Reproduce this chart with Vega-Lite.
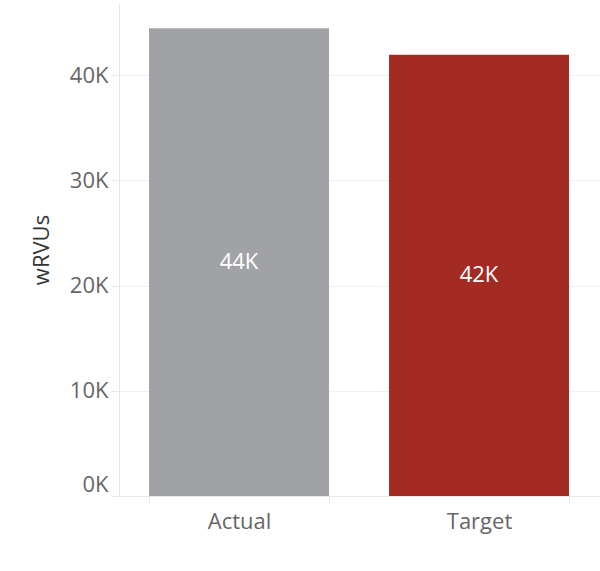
{
  "$schema": "https://vega.github.io/schema/vega-lite/v6.json",
  "autosize": "none",
  "width": 480,
  "height": 493,
  "padding": {"left": 119, "top": 3, "right": 1, "bottom": 75},
  "background": "white",
  "data": {
    "values": [
      {"category": "Actual", "value": 44450},
      {"category": "Target", "value": 41950}
    ]
  },
  "transform": [
    {"calculate": "format(datum.value / 1000, '.0f') + 'K'", "as": "label"},
    {"calculate": "datum.value / 2", "as": "mid"}
  ],
  "encoding": {
    "x": {
      "field": "category",
      "type": "nominal",
      "sort": null,
      "scale": {"paddingInner": 0.25, "paddingOuter": 0.125},
      "axis": {
        "title": null,
        "labelAngle": 0,
        "tickBand": "extent",
        "tickSize": 7,
        "labelPadding": 8,
        "labelFontSize": 22
      }
    }
  },
  "layer": [
    {
      "mark": {"type": "bar"},
      "encoding": {
        "y": {
          "field": "value",
          "type": "quantitative",
          "scale": {"domain": [0, 46860], "nice": false},
          "axis": {
            "title": "wRVUs",
            "values": [0, 10000, 20000, 30000, 40000],
            "labelExpr": "format(datum.value / 1000, '.0f') + 'K'",
            "labelBaseline": {"condition": {"test": "datum.value == 0", "value": "bottom"}, "value": "middle"},
            "tickSize": 8,
            "labelPadding": 3,
            "labelFontSize": 22,
            "titleFontSize": 22,
            "titlePadding": 16,
            "titleFontWeight": "normal",
            "titleColor": "#333333"
          }
        },
        "color": {
          "field": "category",
          "type": "nominal",
          "scale": {"domain": ["Actual", "Target"], "range": ["#A1A2A6", "#A42B24"]},
          "legend": null
        }
      }
    },
    {
      "mark": {"type": "text", "color": "white", "fontSize": 22, "baseline": "middle", "align": "center"},
      "encoding": {
        "y": {"field": "mid", "type": "quantitative"},
        "text": {"field": "label"}
      }
    }
  ],
  "config": {
    "font": "Open Sans",
    "view": {"stroke": null},
    "axis": {
      "domainColor": "#e6e6e6",
      "tickColor": "#e6e6e6",
      "gridColor": "#f0f0f0",
      "labelColor": "#666666",
      "labelFont": "Open Sans",
      "titleFont": "Open Sans"
    },
    "axisX": {"grid": false},
    "axisY": {"grid": true}
  }
}
